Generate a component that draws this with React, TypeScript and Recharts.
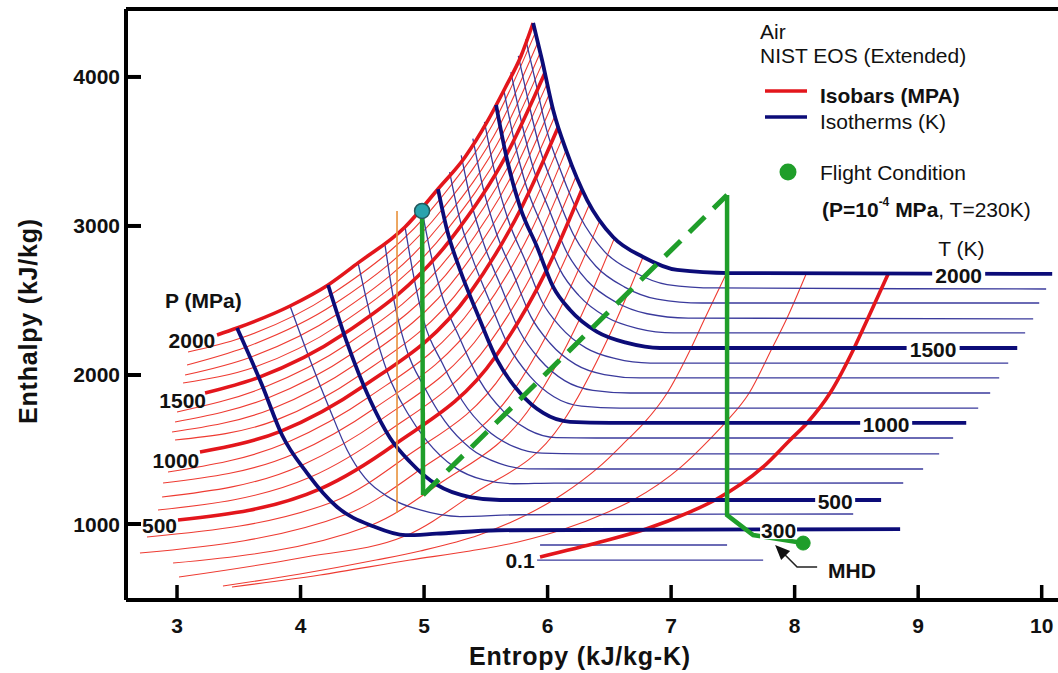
import { LineChart, Line, XAxis, YAxis, ReferenceDot, ReferenceLine } from "recharts";

type Pt = [number, number];

const FONT = "'Liberation Sans', Arial, Helvetica, sans-serif";
const RED = "#e3161c";
const RED_THIN = "#ee3b32";
const NAVY = "#0c0c78";
const NAVY_THIN = "#3a3a9c";
const GREEN = "#1f9e2a";

const entropyTicks = [3, 4, 5, 6, 7, 8, 9, 10];
const enthalpyTicks = [1000, 2000, 3000, 4000];

// isobars (MPa) as [entropy kJ/kg-K, enthalpy kJ/kg]
const p2000: Pt[] = [[3.324, 2268], [3.486, 2315], [3.915, 2463], [4.223, 2604], [4.466, 2752], [4.846, 2993], [5.113, 3248], [5.332, 3463], [5.51, 3698], [5.656, 3926], [5.785, 4141], [5.883, 4362]];
const p1900: Pt[] = [[3.089, 2154], [3.518, 2248], [4.248, 2541], [5.131, 3182], [5.598, 3747], [5.901, 4298]];
const p1800: Pt[] = [[3.081, 2067], [3.555, 2186], [4.274, 2476], [5.149, 3114], [5.615, 3680], [5.921, 4231]];
const p1700: Pt[] = [[3.065, 2000], [3.59, 2118], [4.3, 2409], [5.168, 3045], [5.632, 3611], [5.941, 4164]];
const p1600: Pt[] = [[3.049, 1946], [3.626, 2052], [4.325, 2343], [5.186, 2974], [5.648, 3542], [5.96, 4096]];
const p1500: Pt[] = [[3.227, 1879], [3.662, 1984], [4.352, 2276], [5.212, 2907], [5.665, 3474], [5.978, 4027]];
const p1400: Pt[] = [[3.0, 1752], [3.697, 1914], [4.38, 2208], [5.24, 2837], [5.685, 3404], [5.997, 3957]];
const p1300: Pt[] = [[2.984, 1685], [3.731, 1844], [4.412, 2141], [5.267, 2766], [5.708, 3335], [6.015, 3887]];
const p1200: Pt[] = [[2.96, 1617], [3.766, 1772], [4.446, 2072], [5.296, 2694], [5.732, 3262], [6.035, 3813]];
const p1100: Pt[] = [[2.984, 1564], [3.802, 1697], [4.481, 2000], [5.332, 2620], [5.757, 3188], [6.06, 3740]];
const p1000: Pt[] = [[3.186, 1483], [3.838, 1622], [4.516, 1929], [5.367, 2546], [5.784, 3115], [6.088, 3667]];
const p900: Pt[] = [[2.927, 1349], [3.891, 1547], [4.553, 1852], [5.405, 2468], [5.823, 3039], [6.119, 3588]];
const p800: Pt[] = [[2.887, 1275], [3.949, 1472], [4.599, 1777], [5.444, 2388], [5.863, 2961], [6.151, 3509]];
const p700: Pt[] = [[2.879, 1181], [4.011, 1395], [4.649, 1699], [5.487, 2305], [5.904, 2880], [6.19, 3427]];
const p600: Pt[] = [[2.846, 1094], [4.081, 1315], [4.702, 1618], [5.531, 2217], [5.947, 2793], [6.234, 3341]];
const p500: Pt[] = [[3.008, 1027], [4.164, 1238], [4.759, 1532], [5.579, 2124], [5.991, 2702], [6.281, 3250]];
const p400: Pt[] = [[2.757, 913], [4.26, 1148], [4.847, 1447], [5.653, 2026], [6.041, 2597], [6.341, 3150]];
const p300: Pt[] = [[2.7, 805], [4.389, 1071], [4.962, 1362], [5.744, 1919], [6.131, 2493], [6.429, 3046]];
const p200: Pt[] = [[2.968, 738], [4.565, 990], [5.108, 1261], [5.88, 1805], [6.263, 2381], [6.542, 2920]];
const p100: Pt[] = [[3.016, 644], [3.996, 772], [4.846, 919], [5.372, 1188], [6.117, 1678], [6.498, 2262], [6.773, 2792]];
const p10: Pt[] = [[3.372, 584], [3.996, 664], [4.611, 758], [4.968, 819], [5.445, 926], [5.826, 1060], [6.125, 1201], [6.417, 1383], [6.644, 1564], [6.781, 1678], [6.968, 1879], [7.154, 2168], [7.267, 2369], [7.445, 2678]];
const p1: Pt[] = [[3.445, 577], [4.158, 658], [4.887, 758], [5.372, 819], [5.761, 879], [6.134, 966], [6.49, 1081], [6.692, 1161], [7.081, 1383], [7.308, 1564], [7.437, 1678], [7.632, 1879], [7.818, 2181], [7.931, 2369], [8.093, 2678]];
const p01: Pt[] = [[5.939, 779], [6.425, 879], [6.797, 966], [7.154, 1081], [7.356, 1161], [7.745, 1383], [7.963, 1564], [8.101, 1678], [8.287, 1879], [8.482, 2181], [8.587, 2369], [8.757, 2678]];

// isotherms (K)
const t2000: Pt[] = [[5.883, 4362], [5.955, 4114], [6.045, 3778], [6.158, 3490], [6.32, 3174], [6.53, 2926], [6.773, 2792], [7.049, 2705], [7.478, 2684], [10.085, 2678]];
const t1900: Pt[] = [[5.823, 4252], [5.899, 3980], [5.991, 3648], [6.109, 3364], [6.265, 3058], [6.461, 2828], [6.699, 2691], [6.968, 2607], [7.364, 2584], [10.036, 2577]];
const t1800: Pt[] = [[5.763, 4142], [5.842, 3845], [5.938, 3518], [6.061, 3237], [6.21, 2941], [6.391, 2730], [6.624, 2590], [6.887, 2509], [7.251, 2483], [9.98, 2483]];
const t1700: Pt[] = [[5.703, 4032], [5.785, 3711], [5.884, 3388], [6.012, 3111], [6.155, 2824], [6.321, 2632], [6.55, 2490], [6.806, 2411], [7.138, 2382], [9.931, 2376]];
const t1600: Pt[] = [[5.643, 3922], [5.729, 3577], [5.831, 3258], [5.963, 2985], [6.1, 2707], [6.252, 2534], [6.475, 2389], [6.725, 2313], [7.024, 2282], [9.866, 2282]];
const t1500: Pt[] = [[5.583, 3812], [5.672, 3443], [5.777, 3127], [5.915, 2859], [6.045, 2591], [6.182, 2436], [6.401, 2289], [6.644, 2215], [6.911, 2181], [9.802, 2181]];
const t1400: Pt[] = [[5.489, 3699], [5.575, 3349], [5.68, 3043], [5.818, 2770], [5.954, 2493], [6.101, 2325], [6.313, 2180], [6.551, 2109], [6.83, 2080], [9.729, 2080]];
const t1300: Pt[] = [[5.395, 3586], [5.478, 3255], [5.583, 2958], [5.721, 2682], [5.863, 2395], [6.02, 2213], [6.226, 2071], [6.459, 2003], [6.749, 1980], [9.656, 1980]];
const t1200: Pt[] = [[5.301, 3474], [5.381, 3161], [5.486, 2874], [5.623, 2593], [5.772, 2297], [5.939, 2102], [6.138, 1962], [6.367, 1897], [6.668, 1879], [9.583, 1879]];
const t1100: Pt[] = [[5.207, 3361], [5.283, 3067], [5.389, 2789], [5.526, 2505], [5.682, 2199], [5.858, 1991], [6.051, 1854], [6.274, 1791], [6.587, 1778], [9.486, 1778]];
const t1000: Pt[] = [[5.113, 3248], [5.186, 2973], [5.291, 2705], [5.429, 2416], [5.591, 2101], [5.777, 1879], [5.964, 1745], [6.182, 1685], [6.506, 1678], [9.389, 1678]];
const t900: Pt[] = [[4.984, 3101], [5.049, 2832], [5.146, 2530], [5.288, 2248], [5.45, 1964], [5.643, 1756], [5.845, 1632], [6.069, 1580], [6.393, 1577], [9.283, 1577]];
const t800: Pt[] = [[4.846, 2993], [4.911, 2684], [5.0, 2356], [5.147, 2080], [5.309, 1827], [5.508, 1632], [5.727, 1519], [5.955, 1475], [6.279, 1471], [9.17, 1470]];
const t700: Pt[] = [[4.684, 2872], [4.749, 2530], [4.854, 2181], [5.006, 1913], [5.168, 1690], [5.374, 1509], [5.609, 1407], [5.842, 1370], [6.166, 1369], [9.04, 1369]];
const t600: Pt[] = [[4.466, 2752], [4.571, 2382], [4.708, 2007], [4.866, 1745], [5.027, 1553], [5.24, 1385], [5.491, 1294], [5.729, 1270], [6.053, 1274], [8.879, 1275]];
const t500: Pt[] = [[4.223, 2604], [4.377, 2215], [4.563, 1832], [4.725, 1577], [4.887, 1416], [5.105, 1262], [5.372, 1181], [5.615, 1161], [5.939, 1161], [8.7, 1161]];
const t400: Pt[] = [[3.915, 2463], [4.077, 2101], [4.239, 1765], [4.377, 1497], [4.522, 1309], [4.725, 1174], [4.968, 1094], [5.291, 1050], [5.777, 1062], [8.474, 1067]];
const t300: Pt[] = [[3.486, 2315], [3.688, 1933], [3.85, 1597], [4.053, 1342], [4.296, 1114], [4.587, 985], [4.85, 925], [5.1, 935], [5.6, 958], [8.854, 966]];
const t200: Pt[] = [[5.939, 859], [7.453, 859]];
const t100: Pt[] = [[5.915, 758], [7.745, 758]];

// flight path
const flightDot: Pt = [4.984, 3101];
const compression: Pt[] = [[4.984, 3101], [4.992, 1195]];
const expansion: Pt[] = [[4.992, 1195], [7.453, 3208]];
const heating: Pt[] = [[7.453, 3208], [7.453, 1060], [7.664, 926], [8.069, 872]];
const mhdDot: Pt = [8.069, 872];
const orangeMark: Pt[] = [[4.781, 3101], [4.781, 1074]];
const mhdArrow: Pt[] = [[8.182, 711], [8.02, 711], [7.923, 792]];
const mhdArrowTip: Pt = [7.842, 859];

// labels
const pressureLabels: { text: string; at: Pt }[] = [
  { text: "2000", at: [3.31, 2231] },
  { text: "1500", at: [3.235, 1832] },
  { text: "1000", at: [3.18, 1423] },
  { text: "500", at: [3.0, 987] },
  { text: "0.1", at: [5.895, 752] },
];
const tempLabels: { text: string; at: Pt; w: number }[] = [
  { text: "2000", at: [9.328, 2678], w: 53 },
  { text: "1500", at: [9.121, 2181], w: 53 },
  { text: "1000", at: [8.741, 1678], w: 52 },
  { text: "500", at: [8.328, 1161], w: 40 },
  { text: "300", at: [7.87, 966], w: 37 },
];

const isobars = [
  { id: "2000", pts: p2000, thick: true },
  { id: "1900", pts: p1900, thick: false },
  { id: "1800", pts: p1800, thick: false },
  { id: "1700", pts: p1700, thick: false },
  { id: "1600", pts: p1600, thick: false },
  { id: "1500", pts: p1500, thick: true },
  { id: "1400", pts: p1400, thick: false },
  { id: "1300", pts: p1300, thick: false },
  { id: "1200", pts: p1200, thick: false },
  { id: "1100", pts: p1100, thick: false },
  { id: "1000", pts: p1000, thick: true },
  { id: "900", pts: p900, thick: false },
  { id: "800", pts: p800, thick: false },
  { id: "700", pts: p700, thick: false },
  { id: "600", pts: p600, thick: false },
  { id: "500", pts: p500, thick: true },
  { id: "400", pts: p400, thick: false },
  { id: "300", pts: p300, thick: false },
  { id: "200", pts: p200, thick: false },
  { id: "100", pts: p100, thick: false },
  { id: "10", pts: p10, thick: false },
  { id: "1", pts: p1, thick: false },
  { id: "0.1", pts: p01, thick: true },
];

const isotherms = [
  { id: "2000", pts: t2000, thick: true },
  { id: "1900", pts: t1900, thick: false },
  { id: "1800", pts: t1800, thick: false },
  { id: "1700", pts: t1700, thick: false },
  { id: "1600", pts: t1600, thick: false },
  { id: "1500", pts: t1500, thick: true },
  { id: "1400", pts: t1400, thick: false },
  { id: "1300", pts: t1300, thick: false },
  { id: "1200", pts: t1200, thick: false },
  { id: "1100", pts: t1100, thick: false },
  { id: "1000", pts: t1000, thick: true },
  { id: "900", pts: t900, thick: false },
  { id: "800", pts: t800, thick: false },
  { id: "700", pts: t700, thick: false },
  { id: "600", pts: t600, thick: false },
  { id: "500", pts: t500, thick: true },
  { id: "400", pts: t400, thick: false },
  { id: "300", pts: t300, thick: true },
  { id: "200", pts: t200, thick: false },
  { id: "100", pts: t100, thick: false },
];

const rows = (pts: Pt[]) => pts.map(([s, h]) => ({ s, h }));

const curve = (key: string, pts: Pt[], color: string, width: number, type: "monotone" | "linear" = "monotone", dash?: string) => (
  <Line
    key={key}
    data={rows(pts)}
    dataKey="h"
    type={type}
    stroke={color}
    strokeWidth={width}
    strokeDasharray={dash}
    dot={false}
    activeDot={false}
    isAnimationActive={false}
    strokeLinecap="butt"
  />
);

const XTick = (props: any) => {
  const { x, y, payload } = props;
  return (
    <g>
      <line x1={x} x2={x} y1={y} y2={y - 15} stroke="#000" strokeWidth={3.5} />
      <text x={x} y={y + 33} textAnchor="middle" fontSize={21} fontWeight="bold" fontFamily={FONT} fill="#111">
        {payload.value}
      </text>
    </g>
  );
};

const YTick = (props: any) => {
  const { x, y, payload } = props;
  return (
    <g>
      <line x1={x} x2={x + 15} y1={y} y2={y} stroke="#000" strokeWidth={4} />
      <text x={x - 6} y={y + 7.5} textAnchor="end" fontSize={21} fontWeight="bold" fontFamily={FONT} fill="#111">
        {payload.value}
      </text>
    </g>
  );
};

export default function App() {
  return (
    <div style={{ position: "absolute", left: 0, top: 0, width: 1058, height: 673, background: "#fff" }}>
      <LineChart width={1058} height={673} margin={{ top: 9, right: 0, bottom: 0, left: 0 }}>
        <XAxis
          type="number"
          dataKey="s"
          domain={[2.587, 10.132]}
          ticks={entropyTicks}
          interval={0}
          allowDataOverflow
          height={73}
          tickSize={0}
          tickMargin={0}
          tickLine={false}
          axisLine={{ stroke: "#000", strokeWidth: 4 }}
          tick={XTick}
        />
        <YAxis
          type="number"
          domain={[490, 4456]}
          ticks={enthalpyTicks}
          interval={0}
          allowDataOverflow
          width={126}
          tickSize={0}
          tickMargin={0}
          tickLine={false}
          axisLine={{ stroke: "#000", strokeWidth: 4 }}
          tick={YTick}
        />
        <ReferenceLine y={4456} stroke="#000" strokeWidth={4} />

        {isobars.filter((c) => !c.thick).map((c) => curve("pt" + c.id, c.pts, RED_THIN, 1.1))}
        {isotherms.filter((c) => !c.thick).map((c) => curve("tt" + c.id, c.pts, NAVY_THIN, 1.3))}
        {isobars.filter((c) => c.thick).map((c) => curve("pT" + c.id, c.pts, RED, 3.6))}
        {isotherms.filter((c) => c.thick).map((c) => curve("tT" + c.id, c.pts, NAVY, 3.8))}

        {curve("orange", orangeMark, "#e8903a", 1.6, "linear")}
        {curve("comp", compression, GREEN, 4.5, "linear")}
        {curve("exp", expansion, GREEN, 5, "linear", "22 12")}
        {curve("heat", heating, GREEN, 4.5, "linear")}
        {curve("arrow", mhdArrow, "#222", 1.6, "linear")}

        <ReferenceDot
          x={mhdArrowTip[0]}
          y={mhdArrowTip[1]}
          r={0}
          ifOverflow="visible"
          shape={(p: any) => (
            <polygon points={`${p.cx},${p.cy} ${p.cx + 15},${p.cy + 6} ${p.cx + 6},${p.cy + 15}`} fill="#111" />
          )}
        />
        <ReferenceDot x={mhdDot[0]} y={mhdDot[1]} r={7} fill={GREEN} stroke={GREEN} ifOverflow="visible" />
        <ReferenceDot x={flightDot[0]} y={flightDot[1]} r={7.5} fill="#2aa3ad" stroke="#235a5e" strokeWidth={1.5} ifOverflow="visible" />

        {pressureLabels.map((l) => (
          <ReferenceDot
            key={"pl" + l.text}
            x={l.at[0]}
            y={l.at[1]}
            r={0}
            ifOverflow="visible"
            shape={(p: any) => (
              <text x={p.cx} y={p.cy + 7.5} textAnchor="end" fontSize={21} fontWeight="bold" fontFamily={FONT} fill="#111">
                {l.text}
              </text>
            )}
          />
        ))}
        {tempLabels.map((l) => (
          <ReferenceDot
            key={"tl" + l.text}
            x={l.at[0]}
            y={l.at[1]}
            r={0}
            ifOverflow="visible"
            shape={(p: any) => (
              <g>
                <rect x={p.cx - l.w / 2} y={p.cy - 9} width={l.w} height={19} fill="#fff" />
                <text x={p.cx} y={p.cy + 9} textAnchor="middle" fontSize={21} fontWeight="bold" fontFamily={FONT} fill="#111">
                  {l.text}
                </text>
              </g>
            )}
          />
        ))}
        <ReferenceDot
          x={2.903}
          y={2503}
          r={0}
          ifOverflow="visible"
          shape={(p: any) => (
            <text x={p.cx} y={p.cy + 7.5} fontSize={21} fontWeight="bold" fontFamily={FONT} fill="#111">
              P (MPa)
            </text>
          )}
        />
        <ReferenceDot
          x={9.162}
          y={2852}
          r={0}
          ifOverflow="visible"
          shape={(p: any) => (
            <text x={p.cx} y={p.cy + 7.5} fontSize={21} fontFamily={FONT} fill="#111">
              T (K)
            </text>
          )}
        />
        <ReferenceDot
          x={8.271}
          y={691}
          r={0}
          ifOverflow="visible"
          shape={(p: any) => (
            <text x={p.cx} y={p.cy + 7.5} fontSize={21} fontWeight="bold" fontFamily={FONT} fill="#111">
              MHD
            </text>
          )}
        />
      </LineChart>

      <svg width={1058} height={673} style={{ position: "absolute", left: 0, top: 0, pointerEvents: "none" }} fontFamily={FONT} fill="#111">
        <text x={760} y={38.5} fontSize={21}>Air</text>
        <text x={760} y={63} fontSize={21}>NIST EOS (Extended)</text>
        <line x1={765} x2={807} y1={91} y2={91} stroke={RED} strokeWidth={3.5} />
        <text x={820} y={103} fontSize={21} fontWeight="bold">Isobars (MPA)</text>
        <line x1={765} x2={807} y1={117} y2={117} stroke={NAVY} strokeWidth={3.5} />
        <text x={820} y={128.5} fontSize={21}>Isotherms (K)</text>
        <circle cx={788} cy={172} r={8.5} fill={GREEN} />
        <text x={820} y={179.5} fontSize={21}>Flight Condition</text>
        <text x={822} y={217} fontSize={21}>
          <tspan fontWeight="bold">(P=10</tspan>
          <tspan fontWeight="bold" fontSize={12} dy={-11}>-4</tspan>
          <tspan fontWeight="bold" dy={11}> MPa</tspan>
          <tspan>, T=230K)</tspan>
        </text>
        <text x={580} y={665} fontSize={25} fontWeight="bold" textAnchor="middle" letterSpacing={0.8}>
          Entropy (kJ/kg-K)
        </text>
        <text x={37} y={321} fontSize={25} fontWeight="bold" textAnchor="middle" letterSpacing={0.8} transform="rotate(-90 37 321)">
          Enthalpy (kJ/kg)
        </text>
      </svg>
    </div>
  );
}
